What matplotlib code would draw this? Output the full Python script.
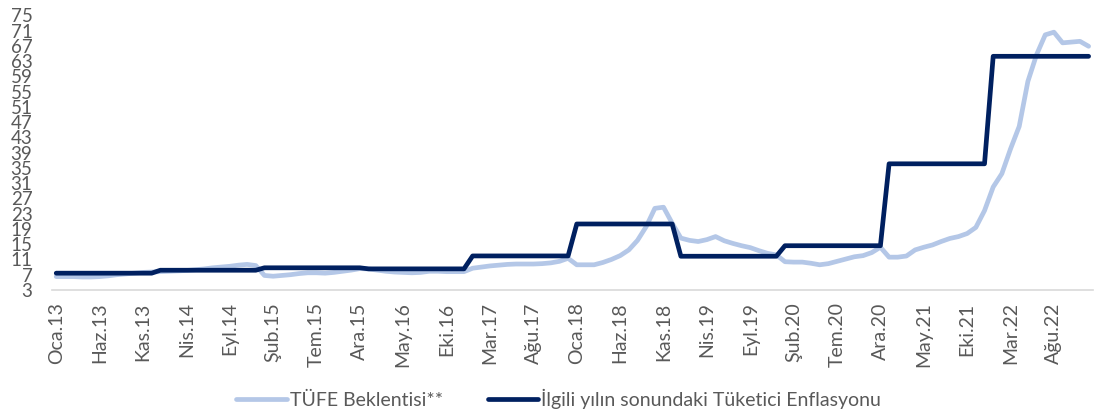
import numpy as np
import matplotlib
matplotlib.use("Agg")
import matplotlib.pyplot as plt

plt.rcParams['font.family'] = ['Lato', 'DejaVu Sans']

# month names (Turkish) and years covered, Jan 2013 - Dec 2022
month_names = ['Oca', 'Şub', 'Mar', 'Nis', 'May', 'Haz', 'Tem', 'Ağu', 'Eyl', 'Eki', 'Kas', 'Ara']
years = [13, 14, 15, 16, 17, 18, 19, 20, 21, 22]

# inflation at the end of the relevant year
year_end_cpi = [7.40, 8.17, 8.81, 8.53, 11.92, 20.30, 11.84, 14.60, 36.08, 64.27]

# monthly CPI expectation
tufe_2013 = [6.5, 6.5, 6.5, 6.4, 6.4, 6.5, 6.7, 7.0, 7.2, 7.4, 7.6, 7.7]
tufe_2014 = [7.8, 7.9, 8.0, 8.1, 8.3, 8.5, 8.8, 9.0, 9.2, 9.5, 9.7, 9.4]
tufe_2015 = [6.8, 6.6, 6.8, 7.0, 7.3, 7.5, 7.5, 7.4, 7.6, 7.9, 8.2, 8.6]
tufe_2016 = [8.5, 8.2, 7.9, 7.7, 7.6, 7.5, 7.6, 7.9, 7.9, 7.8, 7.8, 7.8]
tufe_2017 = [8.7, 9.0, 9.3, 9.5, 9.7, 9.8, 9.8, 9.8, 9.9, 10.1, 10.5, 11.3]
tufe_2018 = [9.6, 9.6, 9.6, 10.2, 11.0, 12.0, 13.5, 16.0, 19.6, 24.4, 24.7, 20.5]
tufe_2019 = [16.6, 16.0, 15.7, 16.2, 17.0, 15.9, 15.2, 14.6, 14.1, 13.3, 12.6, 12.2]
tufe_2020 = [10.4, 10.3, 10.3, 10.0, 9.6, 9.9, 10.5, 11.1, 11.7, 12.0, 12.8, 14.2]
tufe_2021 = [11.6, 11.6, 11.9, 13.5, 14.2, 14.8, 15.7, 16.5, 17.0, 17.8, 19.4, 23.8]
tufe_2022 = [30.0, 33.5, 40.0, 45.9, 57.7, 64.7, 69.9, 70.6, 67.8, 68.0, 68.2, 66.9]

tufe = (tufe_2013 + tufe_2014 + tufe_2015 + tufe_2016 + tufe_2017 +
        tufe_2018 + tufe_2019 + tufe_2020 + tufe_2021 + tufe_2022)
cpi_line = np.repeat(year_end_cpi, 12)
labels = [f"{m}.{y}" for y in years for m in month_names]
x = np.arange(len(labels))

fig = plt.figure(figsize=(11.04, 4.16), dpi=100)
ax = fig.add_axes([0.047, 0.303, 0.943, 0.66])

ax.plot(x, tufe, color='#B4C7E7', lw=3.4, solid_joinstyle='round',
        solid_capstyle='round', label='TÜFE Beklentisi**')
ax.plot(x, cpi_line, color='#002060', lw=3.4, solid_joinstyle='round',
        solid_capstyle='round', label='İlgili yılın sonundaki Tüketici Enflasyonu')

ax.set_xlim(-0.5, len(labels) - 0.5)
ax.set_ylim(3, 75)
ax.set_yticks(np.arange(3, 76, 4))
ax.set_xticks(x[::5])
ax.set_xticklabels(labels[::5], rotation=90)
ax.tick_params(axis='both', length=0, colors='#595959')
ax.tick_params(axis='x', pad=9, labelsize=14)
ax.tick_params(axis='y', pad=14, labelsize=13.5)

for s in ['top', 'right', 'left']:
    ax.spines[s].set_visible(False)
ax.spines['bottom'].set_color('#D9D9D9')
ax.spines['bottom'].set_linewidth(1.2)

leg = fig.legend(loc='lower center', bbox_to_anchor=(0.506, -0.025), ncol=2,
                 frameon=False, fontsize=14, handlelength=2.6,
                 handletextpad=0.15, columnspacing=2.3)
for t in leg.get_texts():
    t.set_color('#595959')

fig.savefig('out.png', dpi=100)
